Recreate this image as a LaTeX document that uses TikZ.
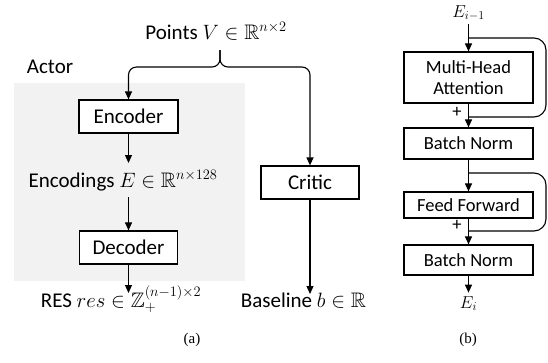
\documentclass[tikz,border=0pt]{standalone}
\usepackage{amssymb}
\usepackage{amsmath}
\usepackage{fontspec}
\setmainfont{Carlito}
\newfontfamily\capfont{Liberation Serif}
\usetikzlibrary{positioning,arrows.meta}

\begin{document}
\begin{tikzpicture}[x=1pt,y=-1pt,
	block/.style={draw, line width=1.2pt, fill=white, inner sep=0pt},
	arr/.style={line width=1.1pt, -{Triangle[length=8pt,width=7pt]}},
	loopline/.style={line width=1.1pt, rounded corners=12pt},
	caption/.style={font=\capfont\fontsize{15}{17}\selectfont, anchor=base}]
	\useasboundingbox (0,0) rectangle (548,362);
	% (a) actor and critic
	\fill[gray!10] (14,83) rectangle (245,281);
	\begin{scope}[font=\fontsize{21}{25}\selectfont]
		\node[anchor=base] (actor) at (50,73) {Actor};
		\node[anchor=base] (pts) at (216,39) {Points $V \in \mathbb{R}^{n\times 2}$};
		\node[block, minimum width=99pt, minimum height=33pt] (enc) at (128.5,116.5) {Encoder};
		\node[anchor=base] (encl) at (123,187) {Encodings $E \in \mathbb{R}^{n\times 128}$};
		\node[block, minimum width=98pt, minimum height=33pt] (dec) at (128.5,247.5) {Decoder};
		\node[anchor=base] (res) at (121,307) {RES $res \in \mathbb{Z}_{+}^{(n-1)\times 2}$};
		\node[block, minimum width=98pt, minimum height=33pt] (crit) at (310,182.5) {Critic};
		\node[anchor=base] (base) at (303.5,307) {Baseline $b \in \mathbb{R}$};
	\end{scope}
	\coordinate (tip) at (220,50);
	\coordinate (bar) at (220,67);
	\coordinate (encin) at (128.5,163);
	\coordinate (encout) at (128.5,197);
	\coordinate (resin) at (128.5,293);
	\coordinate (basein) at (310,294);
	\draw[arr, rounded corners=8pt] (tip) |- (enc.north |- bar) -- (enc.north);
	\draw[arr, rounded corners=8pt] (tip) |- (crit.north |- bar) -- (crit.north);
	\draw[arr] (enc) -- (encin);
	\draw[arr] (encout) -- (dec);
	\draw[arr] (dec) -- (resin);
	\draw[arr] (crit) -- (basein);
	\node[caption] (capa) at (192,343) {(a)};

	% (b) encoder layer
	\begin{scope}[font=\fontsize{18.5}{21}\selectfont]
		\node[anchor=base] (ein) at (468.5,17) {$E_{i-1}$};
		\node[block, minimum width=129pt, minimum height=51pt, align=center] (mha) at (468.5,77.5) {Multi-Head\\Attention};
		\node[block, minimum width=129pt, minimum height=31pt] (bn1) at (468.5,143.5) {Batch Norm};
		\node[block, minimum width=129pt, minimum height=26pt] (ff) at (468.5,205) {Feed Forward};
		\node[block, minimum width=129pt, minimum height=30pt] (bn2) at (468.5,260) {Batch Norm};
		\node[anchor=base] (eout) at (468.5,308) {$E_i$};
		\node[inner sep=0pt] (p1) at (457,112) {+};
		\node[inner sep=0pt] (p2) at (457,225) {+};
	\end{scope}
	\coordinate (s1) at (468.5,38);
	\coordinate (j1) at (468.5,117);
	\coordinate (r1) at (546,77);
	\coordinate (s2) at (468.5,173);
	\coordinate (j2) at (468.5,231);
	\coordinate (r2) at (546,200);
	\draw[arr] (ein) -- (mha);
	\draw[arr] (mha) -- (bn1);
	\draw[arr] (bn1) -- (ff);
	\draw[arr] (ff) -- (bn2);
	\draw[arr] (bn2) -- (eout);
	\draw[loopline] (s1) -| (r1) |- (j1);
	\draw[loopline] (s2) -| (r2) |- (j2);
	\node[caption] (capb) at (468,343) {(b)};
\end{tikzpicture}
\end{document}
